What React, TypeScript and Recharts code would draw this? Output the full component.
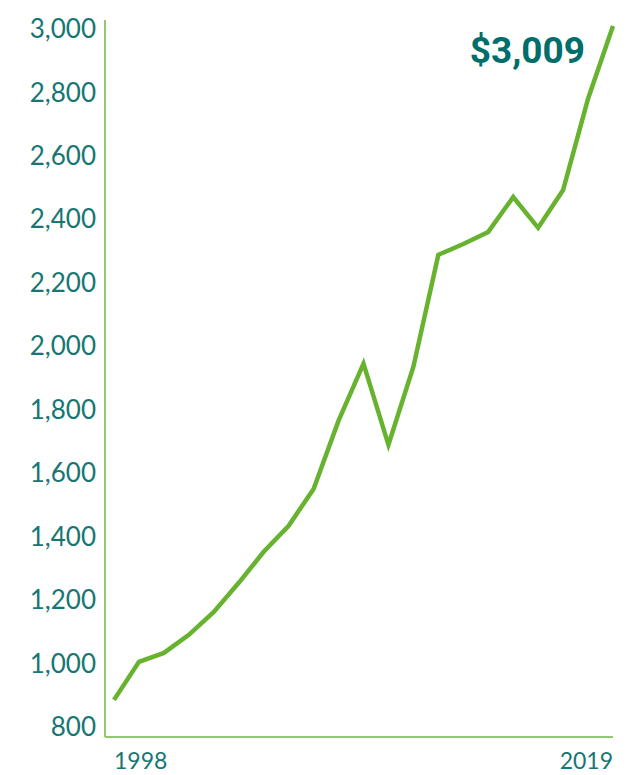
import React from "react";
import { LineChart, Line, XAxis, YAxis } from "recharts";

// one value per point, left to right (first point 1998, last point 2019)
const values = [
  885, 1005, 1033, 1090, 1162, 1254, 1352, 1434, 1550, 1765, 1945, 1689, 1935,
  2288, 2322, 2360, 2470, 2373, 2492, 2780, 3009,
];
const edgeLabels = ["1998", "2019"];
const yTicks = [800, 1000, 1200, 1400, 1600, 1800, 2000, 2200, 2400, 2600, 2800, 3000];
const callout = "$3,009";

const data = values.map((v, i) => ({ idx: i, value: v }));

const TEAL = "#177673";
const GREEN = "#67b22f";
const AXIS_GREEN = "#92c96b";
const FONT = "Lato, 'Noto Sans', sans-serif";

const XTick = (props: any) => {
  const { x, y, payload } = props;
  const last = values.length - 1;
  if (payload.value !== 0 && payload.value !== last) return null;
  const first = payload.value === 0;
  return (
    <text
      x={x}
      y={y + 24}
      textAnchor={first ? "start" : "end"}
      fill={TEAL}
      fontSize={23}
      fontFamily={FONT}
    >
      {first ? edgeLabels[0] : edgeLabels[1]}
    </text>
  );
};

export default function App() {
  return (
    <div style={{ position: "relative", width: 632, height: 767 }}>
      <LineChart
        width={632}
        height={767}
        data={data}
        margin={{ top: 12, right: 27, bottom: 8, left: 0 }}
      >
        <XAxis
          dataKey="idx"
          type="category"
          interval={0}
          height={30}
          tickLine={false}
          axisLine={{ stroke: AXIS_GREEN, strokeWidth: 2 }}
          padding={{ left: 9, right: 0 }}
          tick={<XTick />}
        />
        <YAxis
          width={97}
          domain={[768, 3028]}
          ticks={yTicks}
          interval={0}
          tickLine={false}
          tickMargin={3}
          axisLine={{ stroke: AXIS_GREEN, strokeWidth: 2 }}
          tickFormatter={(v: number) => v.toLocaleString("en-US")}
          tick={{ fill: TEAL, fontSize: 26, fontFamily: FONT }}
        />
        <Line
          type="linear"
          dataKey="value"
          stroke={GREEN}
          strokeWidth={4.5}
          dot={false}
          activeDot={false}
          isAnimationActive={false}
        />
      </LineChart>
      <svg
        width={632}
        height={767}
        style={{ position: "absolute", left: 0, top: 0, pointerEvents: "none" }}
      >
        <text
          x={577}
          y={55}
          textAnchor="end"
          fill="#006e6b"
          fontSize={37}
          fontWeight={700}
          fontFamily="Roboto, 'Noto Sans', sans-serif"
        >
          {callout}
        </text>
      </svg>
    </div>
  );
}
